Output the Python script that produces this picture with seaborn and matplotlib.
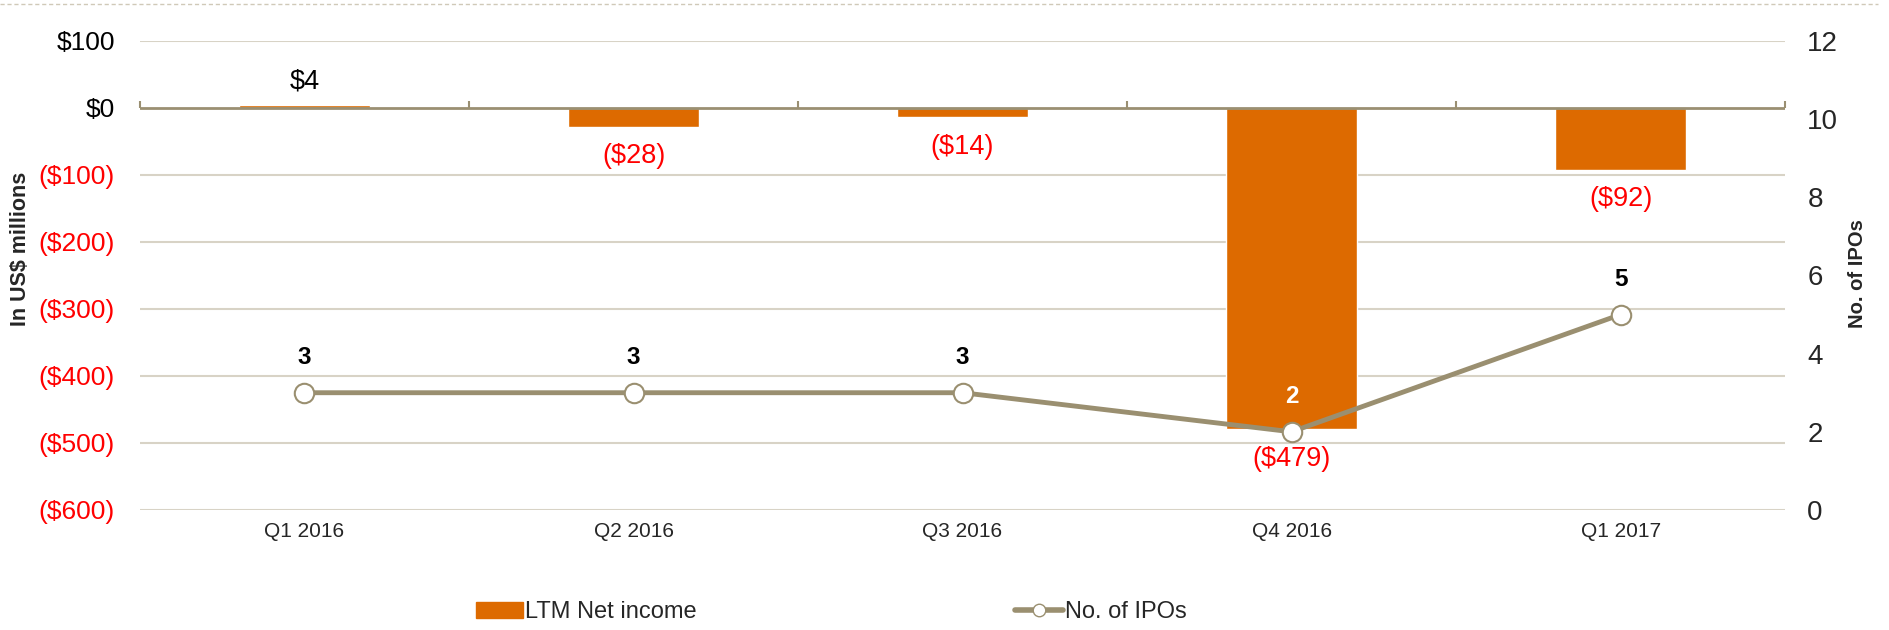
import matplotlib
matplotlib.use("Agg")
import matplotlib.pyplot as plt
from matplotlib.lines import Line2D
import pandas as pd
import seaborn as sns

# data
quarters = ["Q1 2016", "Q2 2016", "Q3 2016", "Q4 2016", "Q1 2017"]
net_income = [4, -28, -14, -479, -92]
ipos = [3, 3, 3, 2, 5]
left_ticks = [100, 0, -100, -200, -300, -400, -500, -600]
right_ticks = [0, 2, 4, 6, 8, 10, 12]

BAR = "#dd6a00"
LINE = "#9a8f70"
GRID = "#d8d3c6"
RED = "#ff0000"


def money(v):
    return "${:,.0f}".format(v) if v >= 0 else "(${:,.0f})".format(-v)


def main():
    sns.set_style("white")
    plt.rcParams["font.family"] = ["Liberation Sans", "DejaVu Sans"]

    df = pd.DataFrame({"Quarter": quarters, "Net": net_income, "IPOs": ipos})

    fig = plt.figure(figsize=(18.89, 6.3), dpi=100)
    ax = fig.add_axes([0.0741, 0.1905, 0.8709, 0.7445])

    sns.barplot(data=df, x="Quarter", y="Net", color=BAR, width=0.4,
                saturation=1, ax=ax, zorder=3)
    ax.set_ylim(-600, 100)
    ax.set_xlim(-0.5, 4.5)
    ax.set_yticks(left_ticks)
    ax.set_yticklabels([money(v) for v in left_ticks], fontsize=19)
    for lab, v in zip(ax.get_yticklabels(), left_ticks):
        lab.set_color(RED if v < 0 else "black")
    for v in left_ticks:
        if v != 0:
            ax.axhline(v, color=GRID, lw=1.5, zorder=0)
    ax.axhline(0, color="#9a8f72", lw=2, zorder=4)
    ax.tick_params(axis="y", length=0, pad=18)
    ax.tick_params(axis="x", length=0, pad=9, labelsize=15)
    ax.set_xlabel("")
    ax.set_ylabel("In US$ millions", fontsize=15.5, fontweight="bold")
    ax.yaxis.set_label_coords(-0.066, 0.556)
    for s in ax.spines.values():
        s.set_visible(False)

    # small category boundary ticks on zero line
    sec = ax.secondary_xaxis(6 / 7)
    sec.set_xticks([i - 0.5 for i in range(len(quarters) + 1)])
    sec.set_xticklabels([])
    sec.tick_params(length=5, color="#9a8f72", width=1.5)
    for s in sec.spines.values():
        s.set_visible(False)

    # bar labels
    for i, v in enumerate(net_income):
        if v >= 0:
            ax.annotate(money(v), (i, v), xytext=(0, 8), textcoords="offset points",
                        ha="center", va="bottom", fontsize=19.5, color="black")
        else:
            ax.annotate(money(v), (i, v), xytext=(0, -12), textcoords="offset points",
                        ha="center", va="top", fontsize=19.5, color=RED)

    ax2 = ax.twinx()
    sns.lineplot(data=df, x="Quarter", y="IPOs", color=LINE, lw=3.5, marker="o",
                 markersize=14, markerfacecolor="white", markeredgecolor=LINE,
                 markeredgewidth=1.5, ax=ax2, zorder=5, legend=False)
    ax2.set_ylim(0, 12)
    ax2.set_xlim(-0.5, 4.5)
    ax2.set_yticks(right_ticks)
    ax2.tick_params(axis="y", length=0, pad=16, labelsize=20)
    ax2.set_ylabel("No. of IPOs", fontsize=14.5, fontweight="bold")
    ax2.yaxis.set_label_coords(1.0383, 0.505)
    for s in ax2.spines.values():
        s.set_visible(False)
    for i, v in enumerate(ipos):
        ax2.annotate(str(v), (i, v), xytext=(0, 17), textcoords="offset points",
                     ha="center", va="bottom", fontsize=17.5, fontweight="bold",
                     color="white" if i == 3 else "black")

    # legend
    handles = [plt.Rectangle((0, 0), 1, 1, color=BAR),
               Line2D([], [], color=LINE, lw=4, marker="o", markersize=9,
                      markerfacecolor="white", markeredgecolor=LINE)]
    fig.legend(handles, ["LTM Net income", "No. of IPOs"], loc="center",
               bbox_to_anchor=(0.44, 0.028), ncol=2, frameon=False, fontsize=17,
               columnspacing=13.5, handlelength=2.0, handletextpad=0.1)

    # dashed top border
    fig.add_artist(Line2D([0.0, 0.994], [0.994, 0.994], transform=fig.transFigure,
                          color="#d0c9b8", lw=1, ls=(0, (3, 2))))

    fig.savefig("out.png", dpi=100)


if __name__ == "__main__":
    main()
